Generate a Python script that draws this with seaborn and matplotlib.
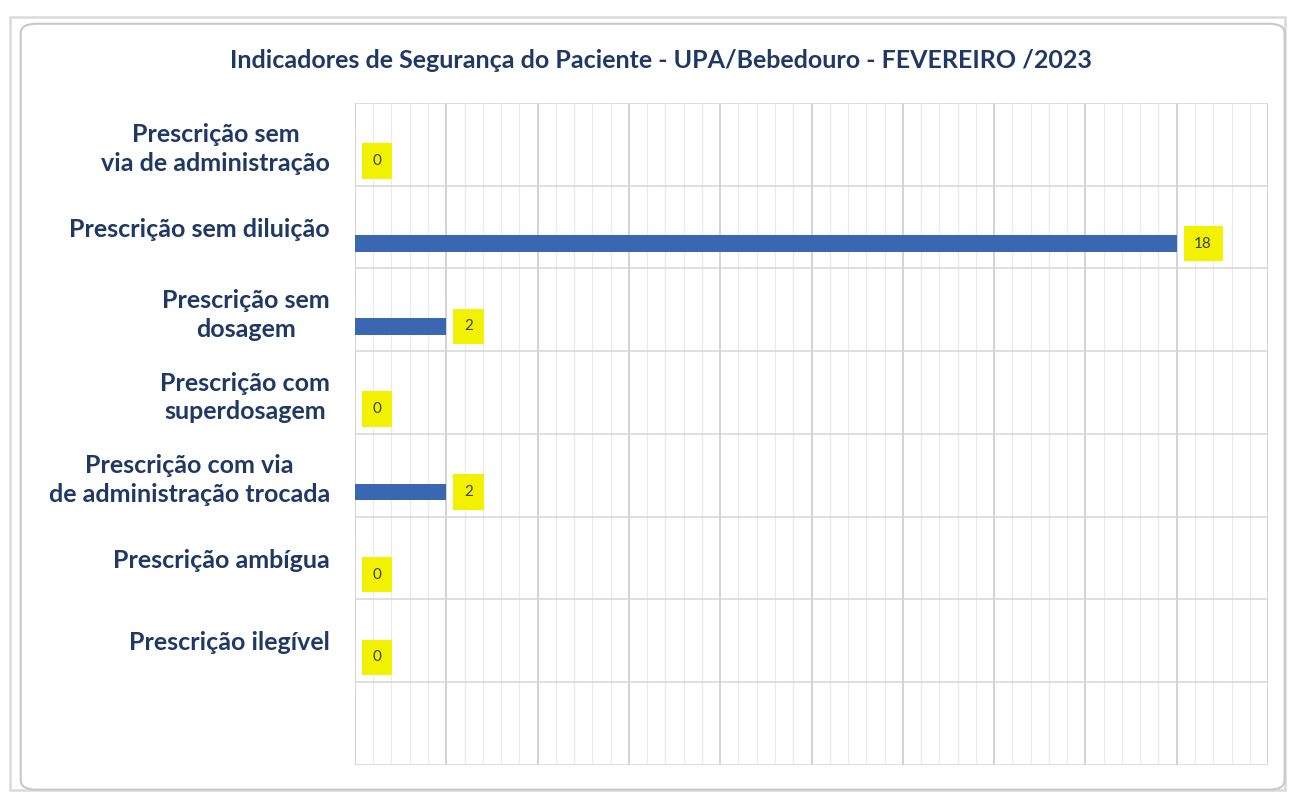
import matplotlib
matplotlib.use("Agg")
import matplotlib.pyplot as plt
import seaborn as sns
import numpy as np
from matplotlib.patches import FancyBboxPatch
from matplotlib.ticker import MultipleLocator, FixedLocator

categorias = [
    "Prescrição sem\nvia de administração",
    "Prescrição sem diluição",
    "Prescrição sem\ndosagem",
    "Prescrição com\nsuperdosagem",
    "Prescrição com via\nde administração trocada",
    "Prescrição ambígua",
    "Prescrição ilegível",
]
valores = [0, 18, 2, 0, 2, 0, 0]
titulo = "Indicadores de Segurança do Paciente - UPA/Bebedouro - FEVEREIRO /2023"

sns.set_theme(style="white")
plt.rcParams["font.family"] = ["Lato", "DejaVu Sans"]

azul = "#3A67B1"
texto = "#1F3864"

fig = plt.figure(figsize=(12.95, 7.92), dpi=100)
fig.patch.set_facecolor("white")

# moldura do grafico
fig.patches.append(FancyBboxPatch((0.008, 0.003), 0.984, 0.975, boxstyle="square,pad=0",
                                  transform=fig.transFigure, facecolor="none",
                                  edgecolor="#DADADA", linewidth=1.8, zorder=-2))
fig.patches.append(FancyBboxPatch((0.016, 0.003), 0.976, 0.967, boxstyle="round,pad=0,rounding_size=0.012",
                                  transform=fig.transFigure, facecolor="none",
                                  edgecolor="#C8C8C8", linewidth=1.5, zorder=-1))

ax = fig.add_axes([0.2741, 0.0341, 0.7051, 0.8359])
ax.set_facecolor("none")

sns.barplot(x=valores, y=categorias, orient="h", color=azul, width=0.2,
            saturation=1, ax=ax)

# barras deslocadas para a parte de baixo de cada faixa
for p in ax.patches:
    p.set_y(p.get_y() + 0.2)
    p.set_linewidth(0)

ax.set_xlim(0, 20)
ax.set_ylim(7.5, -0.5)
ax.xaxis.set_major_locator(MultipleLocator(2))
ax.xaxis.set_minor_locator(MultipleLocator(0.4))
ax.yaxis.set_minor_locator(FixedLocator(np.arange(-0.5, 8, 1)))
ax.grid(True, axis="x", which="major", color="#D0D0D0", linewidth=1.3)
ax.grid(True, axis="x", which="minor", color="#EAEAEA", linewidth=0.9)
ax.grid(True, axis="y", which="minor", color="#D6D6D6", linewidth=1.1)
ax.grid(False, axis="y", which="major")
ax.set_axisbelow(True)
ax.tick_params(axis="x", which="both", length=0, labelbottom=False)
ax.tick_params(axis="y", which="both", length=0, pad=18)
for lbl in ax.get_yticklabels():
    lbl.set_fontweight("bold")
    lbl.set_fontsize(18)
    lbl.set_color(texto)
    lbl.set_horizontalalignment("right")
    lbl.set_multialignment("center")
    lbl.set_linespacing(1.3)
for s in ax.spines.values():
    s.set_visible(False)
ax.set_xlabel("")
ax.set_ylabel("")

for i, v in enumerate(valores):
    ax.annotate(str(v), xy=(v, i + 0.2), xytext=(16 if v < 10 else 19, 0), textcoords="offset points",
                ha="center", va="center", fontsize=11, color="#404040",
                bbox=dict(boxstyle="square,pad=0.7", facecolor="#F2F200", edgecolor="none"))

fig.text(0.51, 0.924, titulo, ha="center", va="center", fontsize=18,
         fontweight="bold", color=texto)

fig.savefig("out.png", dpi=100, facecolor="white")
